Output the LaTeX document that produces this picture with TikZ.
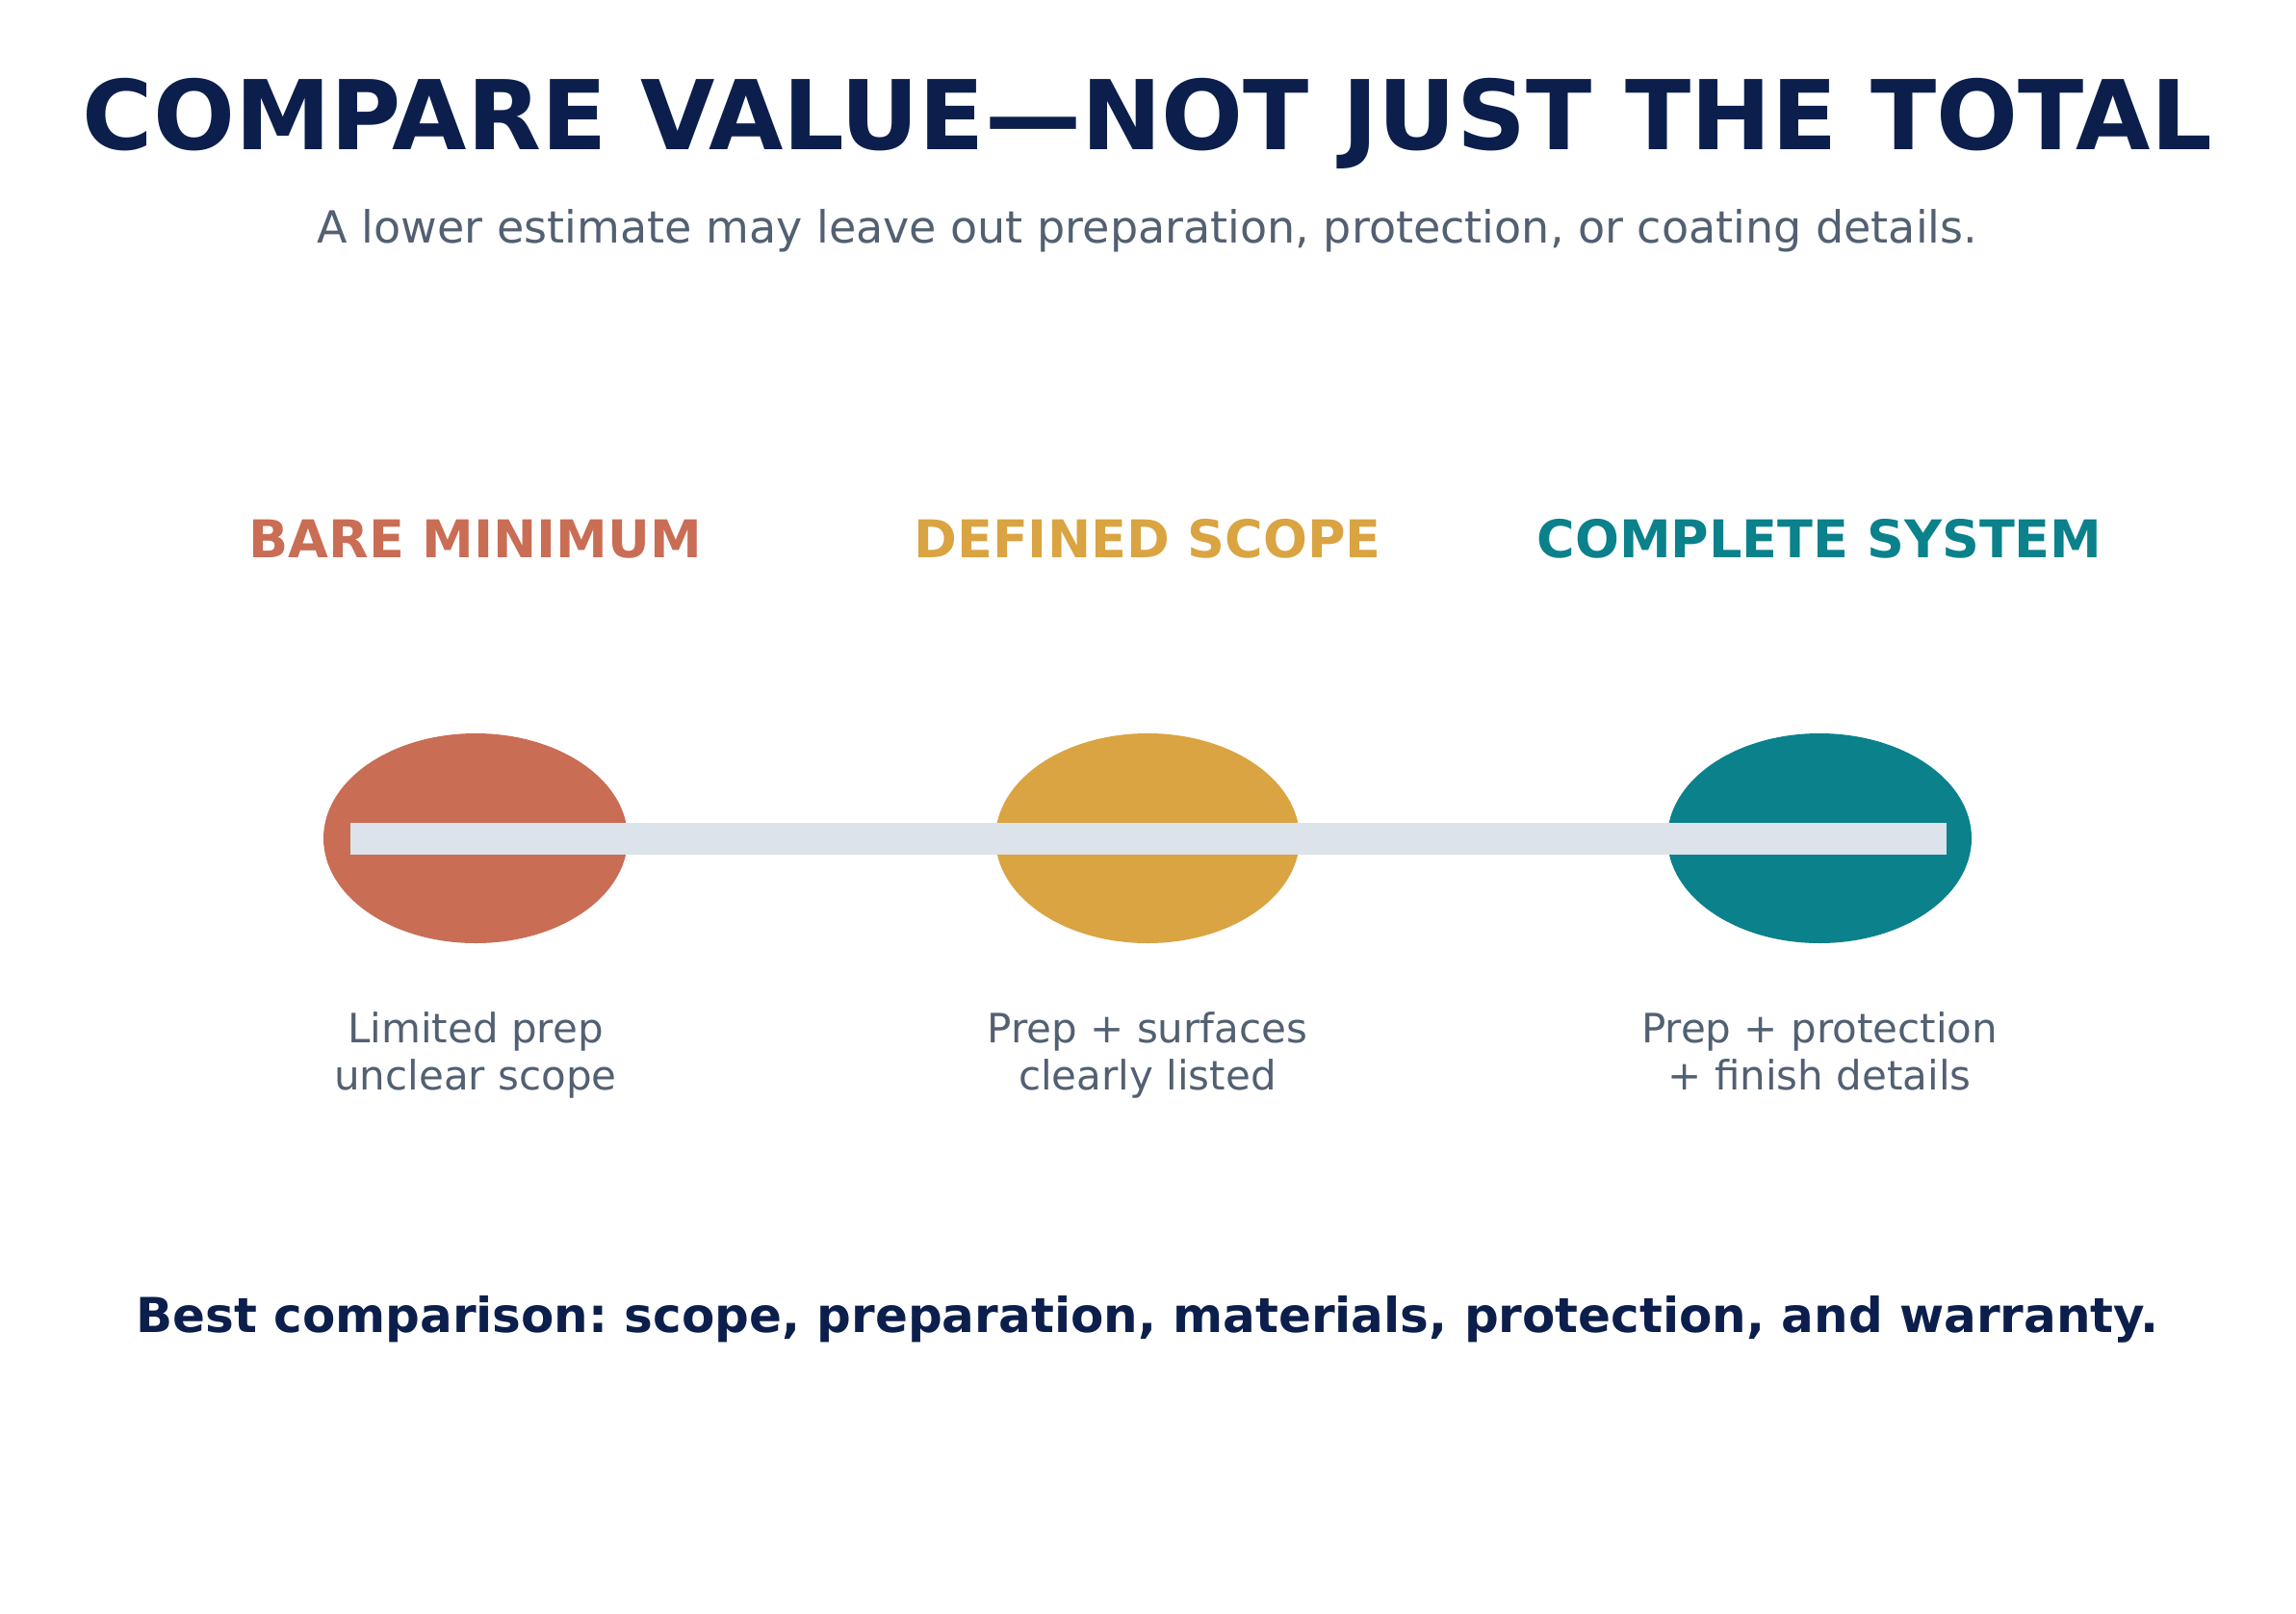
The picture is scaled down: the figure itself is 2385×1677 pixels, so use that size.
\documentclass[tikz,border=0pt]{standalone}
\usepackage{fontspec}
\setmainfont{DejaVu Sans}
\usetikzlibrary{shapes.geometric,calc}
\frenchspacing
\definecolor{navy}{HTML}{0C1F4C}
\definecolor{slate}{HTML}{526072}
\definecolor{terra}{HTML}{C96D55}
\definecolor{gold}{HTML}{D9A441}
\definecolor{teal}{HTML}{0A818B}
\definecolor{barc}{HTML}{DCE3EA}
\tikzset{
  txt/.style={anchor=base, inner sep=0pt, outer sep=0pt},
  headtxt/.style={txt, font=\fontsize{54}{64}\selectfont\bfseries},
  desc/.style={txt, text=slate, font=\fontsize{42}{49}\selectfont},
  dot/.style={ellipse, draw=none, inner sep=0pt, minimum width=316pt, minimum height=218pt},
  barline/.style={draw=barc, line width=33pt}
}
\newcommand{\twolines}[2]{\begin{tabular}[t]{@{}c@{}}#1\\#2\end{tabular}}
\begin{document}
\frenchspacing
\begin{tikzpicture}[x=1pt,y=-1pt]
\useasboundingbox (0,0) rectangle (2385,1677);
\fill[white] (0,0) rectangle (2385,1677);
\node[txt, text=navy, font=\fontsize{100}{120}\selectfont\bfseries] (title) at (1192,156) {COMPARE VALUE—NOT JUST THE TOTAL};
\node[txt, text=slate, font=\fontsize{46}{55}\selectfont] (sub) at (1192,253) {A lower estimate may leave out preparation, protection, or coating details.};
\node[headtxt, text=terra] (h1) at (494,579) {BARE MINIMUM};
\node[headtxt, text=gold] (h2) at (1192,579) {DEFINED SCOPE};
\node[headtxt, text=teal] (h3) at (1890,579) {COMPLETE SYSTEM};
\node[dot, fill=terra] (e1) at (494,871) {};
\node[dot, fill=gold] (e2) at (1192,871) {};
\node[dot, fill=teal] (e3) at (1890,871) {};
\draw[barline] ($(e1.west)+(28,0)$) -- ($(e3.east)+(-26,0)$);
\node[desc] (d1) at (494,1083) {\twolines{Limited prep}{unclear scope}};
\node[desc] (d2) at (1192,1083) {\twolines{Prep + surfaces}{clearly listed}};
\node[desc] (d3) at (1890,1083) {\twolines{Prep + protection}{+ finish details}};
\node[txt, text=navy, font=\fontsize{50}{60}\selectfont\bfseries] (foot) at (1192,1384) {Best comparison: scope, preparation, materials, protection, and warranty.};
\end{tikzpicture}
\end{document}
